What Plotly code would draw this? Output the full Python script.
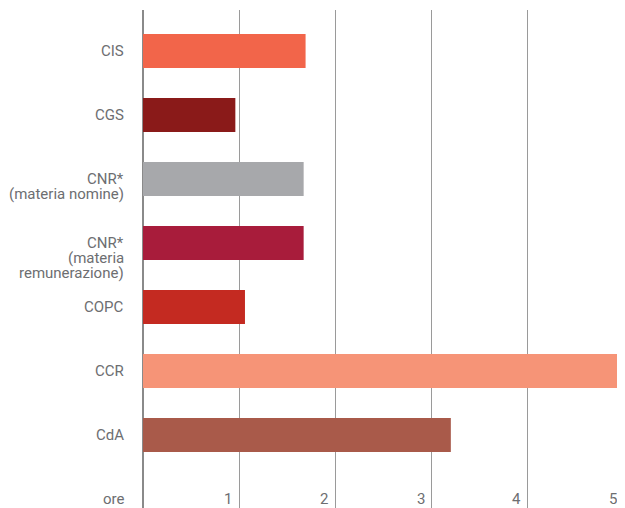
import plotly.graph_objects as go

# ---- data ----
label_lines = [
    ["CIS"],
    ["CGS"],
    ["CNR*", "(materia nomine)"],
    ["CNR*", "(materia", "remunerazione)"],
    ["COPC"],
    ["CCR"],
    ["CdA"],
]
values = [1.69, 0.96, 1.67, 1.67, 1.06, 5.0, 3.2]
bar_colors = ["#F2654A", "#8A1A19", "#A7A8AB", "#A81C3B", "#C42A21", "#F69477", "#A95A4A"]
x_ticks = [1, 2, 3, 4, 5]
unit_label = "ore"

FONT = "Roboto, Liberation Sans, sans-serif"
TXT = "#6d6e71"
FS = 15

positions = list(range(len(values)))
unit_row = len(values)

fig = go.Figure()
fig.add_trace(go.Bar(
    x=values, y=positions, orientation="h",
    marker=dict(color=bar_colors, line=dict(width=0)),
    width=0.53, hoverinfo="skip",
))

annotations = []
for pos, lines in zip(positions, label_lines):
    for k, line in enumerate(lines):
        annotations.append(dict(
            xref="paper", yref="y", x=0, y=pos, text=line,
            xanchor="right", yanchor="middle", xshift=-17, yshift=-15 * k,
            showarrow=False, font=dict(family=FONT, size=FS, color=TXT),
        ))
annotations.append(dict(
    xref="paper", yref="y", x=0, y=unit_row, text=unit_label,
    xanchor="right", yanchor="middle", xshift=-17,
    showarrow=False, font=dict(family=FONT, size=FS, color=TXT),
))
for t in x_ticks:
    annotations.append(dict(
        xref="x", yref="y", x=t, y=unit_row, text=str(t),
        xanchor="right", yanchor="middle", xshift=-5,
        showarrow=False, font=dict(family=FONT, size=FS, color=TXT),
    ))

# page body adds an 8px margin, so the figure is 8px smaller than the window
fig.update_layout(
    width=617, height=500,
    margin=dict(l=135, r=1, t=2, b=0),
    paper_bgcolor="white", plot_bgcolor="white",
    showlegend=False,
    annotations=annotations,
    xaxis=dict(range=[0, 5], tickvals=x_ticks, showticklabels=False,
               showgrid=True, gridcolor="#9a9a9a", gridwidth=1,
               zeroline=True, zerolinecolor="#8a8a8a", zerolinewidth=1.5,
               showline=False, fixedrange=True),
    yaxis=dict(range=[7.14, -0.64], showticklabels=False, showgrid=False,
               zeroline=False, showline=False, fixedrange=True),
)

fig.write_html("out.html")
